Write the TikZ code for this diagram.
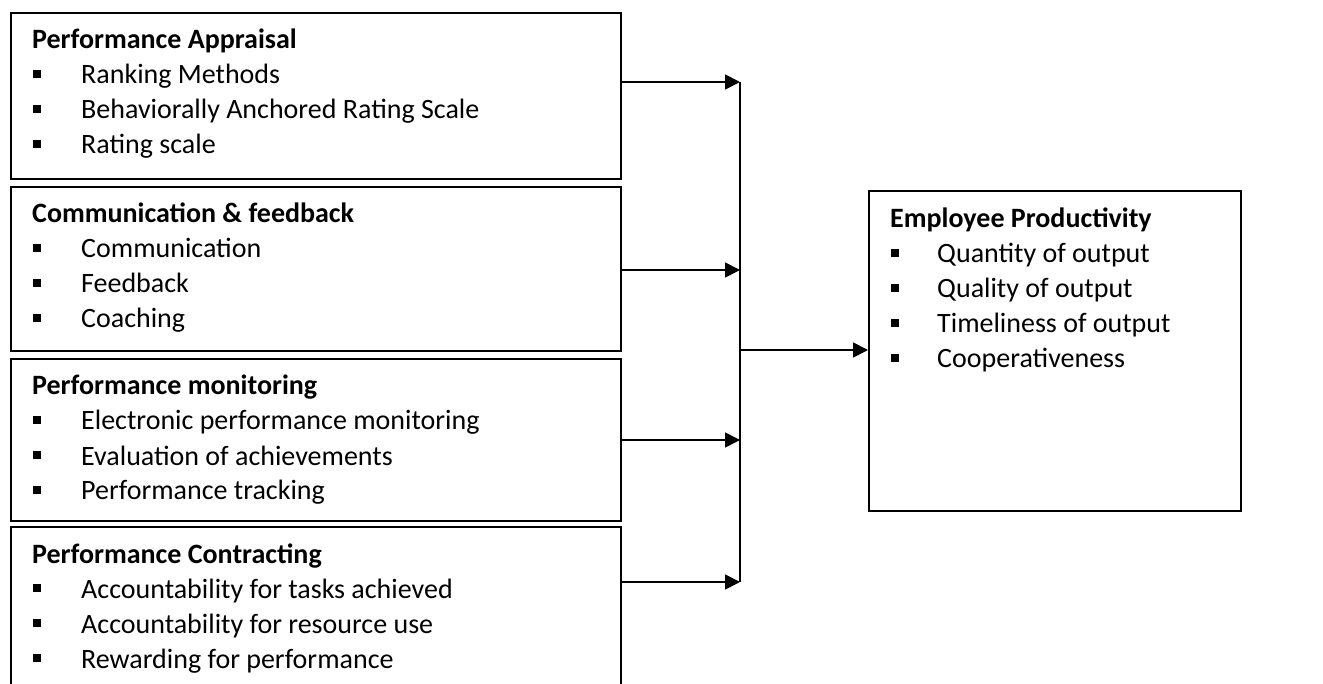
\documentclass[tikz,border=0pt]{standalone}
\usepackage{fontspec}
\setmainfont{Carlito}
\usetikzlibrary{arrows.meta}
\tikzset{
  box/.style={draw=black, line width=1.8pt, rectangle, anchor=north west, inner sep=0pt},
  hdr/.style={anchor=base west, inner sep=0pt, font=\fontsize{28}{35}\selectfont\bfseries},
  itm/.style={anchor=base west, inner sep=0pt, font=\fontsize{28}{35}\selectfont},
  bul/.style={fill=black, rectangle, minimum size=8pt, inner sep=0pt},
  conn/.style={line width=1.8pt},
  arr/.style={line width=1.8pt, -{Triangle[length=15pt,width=15pt]}}
}
\begin{document}
\begin{tikzpicture}[x=1pt,y=-1pt]
\clip (0,0) rectangle (1323,684);
\fill[white] (0,0) rectangle (1323,684);
% left boxes
\node[box, minimum width=610pt, minimum height=166pt] (b1) at (10,12) {};
\node[box, minimum width=610pt, minimum height=164pt] (b2) at (10,186) {};
\node[box, minimum width=610pt, minimum height=162pt] (b3) at (10,358) {};
\node[box, minimum width=610pt, minimum height=170pt] (b4) at (10,526) {};
% right box
\node[box, minimum width=372pt, minimum height=320pt] (rb) at (868,190) {};
% texts box 1
\node[hdr] (h1) at (32,49) {Performance Appraisal};
\foreach \t [count=\i] in {Ranking Methods, Behaviorally Anchored Rating Scale, Rating scale}{
  \node[itm] (t1\i) at (81,49+35*\i) {\t};
  \node[bul] (u1\i) at (37,39+35*\i) {};
}
% box 2
\node[hdr] (h2) at (32,223) {Communication \& feedback};
\foreach \t [count=\i] in {Communication, Feedback, Coaching}{
  \node[itm] (t2\i) at (81,223+35*\i) {\t};
  \node[bul] (u2\i) at (37,213+35*\i) {};
}
% box 3
\node[hdr] (h3) at (32,395) {Performance monitoring};
\foreach \t [count=\i] in {Electronic performance monitoring, Evaluation of achievements, Performance tracking}{
  \node[itm] (t3\i) at (81,395+35*\i) {\t};
  \node[bul] (u3\i) at (37,385+35*\i) {};
}
% box 4
\node[hdr] (h4) at (32,563) {Performance Contracting};
\foreach \t [count=\i] in {Accountability for tasks achieved, Accountability for resource use, Rewarding for performance}{
  \node[itm] (t4\i) at (81,563+35*\i) {\t};
  \node[bul] (u4\i) at (37,553+35*\i) {};
}
% right box text
\node[hdr] (hr) at (890,228) {Employee Productivity};
\foreach \t [count=\i] in {Quantity of output, Quality of output, Timeliness of output, Cooperativeness}{
  \node[itm] (tr\i) at (937,228+35*\i) {\t};
  \node[bul] (ur\i) at (895,218+35*\i) {};
}
% connectors
\coordinate (j1) at (740,82);
\coordinate (j2) at (740,270);
\coordinate (j3) at (740,440);
\coordinate (j4) at (740,582);
\coordinate (jm) at (740,350);
\draw[arr] (b1.east |- j1) -- (j1);
\draw[arr] (b2.east |- j2) -- (j2);
\draw[arr] (b3.east |- j3) -- (j3);
\draw[arr] (b4.east |- j4) -- (j4);
\draw[conn] (j1) -- (j4);
\draw[arr] (jm) -- (rb.west |- jm);
\end{tikzpicture}
\end{document}
